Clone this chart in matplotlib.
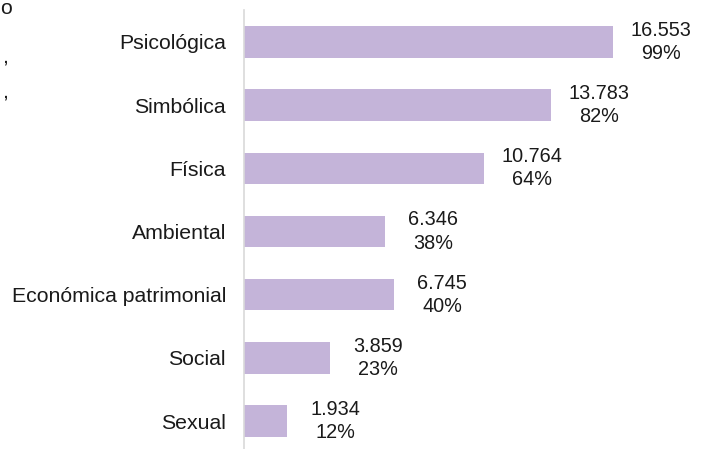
import matplotlib.pyplot as plt

plt.rcParams['font.family'] = ['Liberation Sans', 'DejaVu Sans']

categorias = ['Psicológica', 'Simbólica', 'Física', 'Ambiental',
              'Económica patrimonial', 'Social', 'Sexual']
casos = [16553, 13783, 10764, 6346, 6745, 3859, 1934]
porcentajes = [99, 82, 64, 38, 40, 23, 12]

W, H = 703, 449
fig = plt.figure(figsize=(W / 100, H / 100), dpi=100)
# axes placed so the bar area starts at x=244 px and top bar sits at y=42 px
left = 244 / W
top = 1 - 10.4 / H
bottom = 1 - 452.6 / H
ax = fig.add_axes([left, bottom, 1 - left, top - bottom])

y = list(range(len(categorias)))
ax.barh(y, casos, height=0.5, color='#C4B4D9')
ax.set_ylim(6.5, -0.5)
ax.set_xlim(0, (W - 244) * 44.86)

for yi, v, p in zip(y, casos, porcentajes):
    txt = f"{v:,}".replace(',', '.') + f"\n{p}%"
    ax.annotate(txt, (v, yi), xytext=(34.5, 0), textcoords='offset points',
                ha='center', va='center', multialignment='center',
                fontsize=14.3, color='#1a1a1a', linespacing=1.28)

ax.set_yticks(y)
ax.set_yticklabels(categorias, fontsize=15.3, color='#1a1a1a')
ax.tick_params(axis='y', length=0, pad=13)
ax.set_xticks([])
for s in ['top', 'right', 'bottom']:
    ax.spines[s].set_visible(False)
ax.spines['left'].set_color('#D9D9D9')
ax.spines['left'].set_linewidth(1.2)

# cut-off text fragments at the left edge of the original image
fig.text(0 / W, 1 - 9 / H, 'o', fontsize=15.3, va='center', ha='left', color='#1a1a1a')
fig.text(2 / W, 1 - 57 / H, ',', fontsize=15.3, va='center', ha='left', color='#1a1a1a')
fig.text(2 / W, 1 - 92 / H, ',', fontsize=15.3, va='center', ha='left', color='#1a1a1a')

fig.savefig('out.png', dpi=100, facecolor='white')
